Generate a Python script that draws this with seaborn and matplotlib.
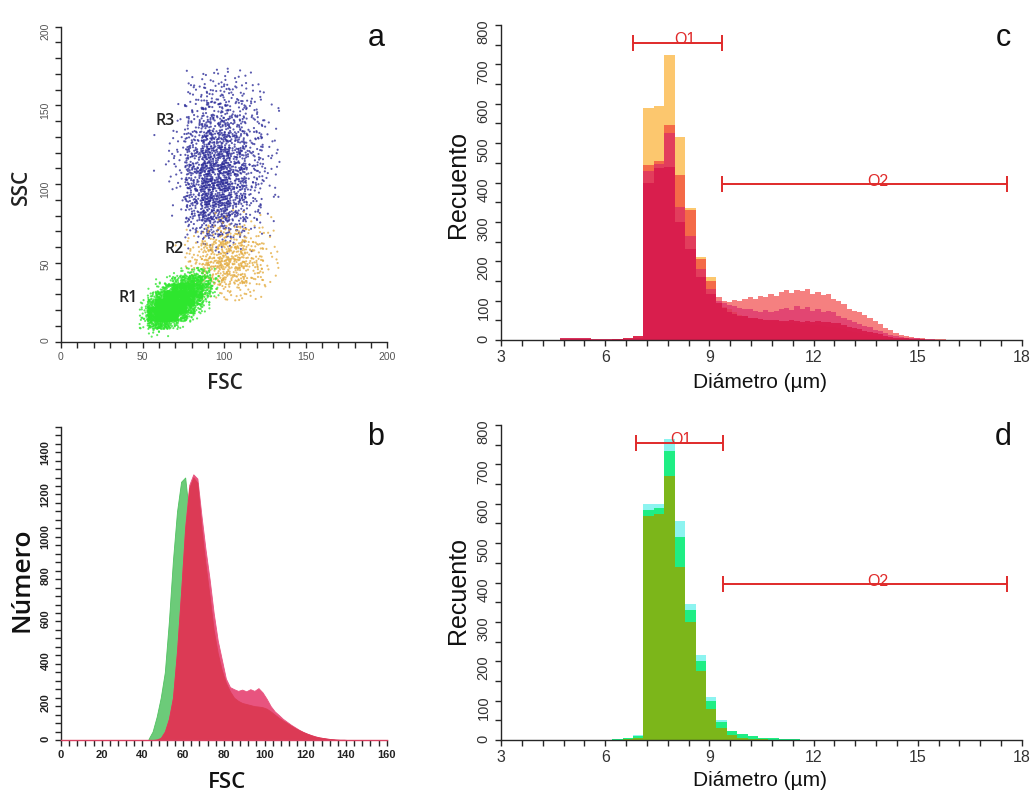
import numpy as np
import pandas as pd
import matplotlib
matplotlib.use("Agg")
import matplotlib.pyplot as plt
import seaborn as sns
from matplotlib.ticker import MultipleLocator

# ---------------- data: panel a (cell counts read from the dot cloud) ----------------
R3_FSC0, R3_DFSC = 60, 10          # columns: FSC 60,70,...,130
R3_SSC_ROWS = [160, 150, 140, 130, 120, 110, 100, 90, 80, 70, 60]
R3_COUNTS = [
    [0, 0, 10, 14, 12, 5, 0, 0],
    [0, 2, 14, 22, 18, 12, 3, 0],
    [0, 3, 22, 36, 30, 16, 5, 0],
    [0, 6, 36, 54, 42, 22, 7, 0],
    [2, 12, 54, 72, 54, 26, 10, 0],
    [4, 14, 66, 84, 66, 30, 12, 0],
    [0, 14, 72, 96, 66, 26, 10, 0],
    [0, 10, 72, 100, 66, 24, 7, 0],
    [0, 5, 60, 90, 54, 18, 5, 0],
    [0, 0, 42, 60, 36, 12, 3, 0],
    [0, 0, 6, 18, 10, 3, 0, 0],
]
R2_FSC0, R2_DFSC = 70, 10          # columns: FSC 70,...,130
R2_SSC_ROWS = [70, 60, 50, 40, 30]
R2_COUNTS = [
    [0, 0, 4, 8, 6, 2, 0],
    [0, 10, 30, 35, 25, 8, 0],
    [3, 35, 60, 65, 40, 12, 0],
    [0, 25, 60, 70, 40, 10, 0],
    [0, 0, 20, 30, 15, 3, 0],
]
R1_FSC0, R1_DFSC = 50, 5           # columns: FSC 50,55,...,90
R1_SSC_ROWS = [40, 35, 30, 25, 20, 15, 10, 5]
R1_COUNTS = [
    [0, 0, 0, 1, 4, 14, 28, 24, 6],
    [0, 0, 3, 12, 40, 65, 70, 45, 12],
    [0, 4, 20, 65, 110, 120, 90, 45, 10],
    [3, 22, 90, 160, 180, 140, 75, 20, 2],
    [10, 90, 200, 230, 180, 90, 28, 4, 0],
    [20, 160, 240, 180, 90, 28, 4, 0, 0],
    [15, 80, 95, 40, 10, 2, 0, 0, 0],
    [2, 8, 5, 0, 0, 0, 0, 0, 0],
]

# ---------------- data: panel b (FSC histogram, 2-unit bins from 42) ----------------
B_START, B_WIDTH = 42, 2
B_GREEN = [5, 40, 110, 200, 320, 560, 850, 1080, 1220, 1240, 1060, 900, 800, 700, 600,
           500, 420, 350, 280, 220, 180, 150, 130, 120, 110, 100, 95, 90, 85, 80, 75, 70,
           62, 55, 48, 40, 33, 27, 22, 17, 12, 9, 6, 4, 2, 1, 0, 0, 0, 0]
B_PINK = [0, 0, 2, 10, 40, 100, 200, 420, 700, 1010, 1205, 1255, 1235, 1060, 900, 760,
          600, 470, 380, 290, 250, 240, 232, 238, 230, 240, 232, 245, 225, 195, 160, 135,
          118, 100, 86, 72, 60, 48, 38, 30, 23, 17, 12, 9, 6, 4, 2, 1, 1, 0]
B_RED = [0, 0, 2, 10, 40, 100, 200, 420, 700, 1000, 1190, 1240, 1215, 1000, 830, 680,
         520, 410, 330, 270, 230, 200, 185, 175, 170, 165, 160, 158, 155, 148, 135, 120,
         105, 92, 80, 68, 56, 46, 37, 29, 22, 16, 12, 9, 6, 4, 2, 1, 1, 0]

# ---------------- data: panels c, d (diameter histograms) ----------------
# core: 0.3 um bins from 3.2 to 9.2 ; tail (panel c): 0.15 um bins from 9.2
CORE_START, CORE_W = 3.2, 0.3
TAIL_W = 0.15
C_YELLOW_CORE = [0, 0, 0, 0, 0, 2, 3, 2, 1, 1, 2, 4, 10, 590, 595, 725, 515, 335, 211, 160]
C_ORANGE_CORE = [0, 0, 0, 0, 0, 1, 2, 2, 1, 1, 2, 3, 6, 445, 455, 545, 420, 330, 205, 150]
C_PINK_CORE = [0, 0, 0, 0, 0, 1, 2, 2, 1, 1, 2, 3, 6, 430, 448, 525, 338, 265, 180, 130]
C_CRIMSON_CORE = [0, 0, 0, 0, 0, 4, 6, 5, 2, 2, 3, 5, 10, 400, 436, 440, 300, 230, 160, 118]
C_YELLOW_TAIL = [95, 85, 78, 70, 64, 60, 56, 54, 52, 50, 48, 47, 46, 45, 44, 42, 41, 40,
                 39, 38, 36, 34, 32, 30, 27, 24, 21, 18, 15, 12, 10, 8, 6, 5, 4, 3, 2, 2,
                 1, 1, 0, 0, 0, 0, 0, 0, 0, 0]
C_ORANGE_TAIL = [108, 100, 97, 101, 99, 104, 108, 103, 112, 109, 116, 113, 121, 126, 119,
                 128, 124, 130, 118, 122, 115, 117, 104, 98, 92, 80, 74, 70, 63, 55, 48,
                 40, 31, 25, 18, 13, 9, 7, 5, 4, 3, 3, 2, 2, 1, 1, 1, 0]
C_PINK_TAIL = [100, 94, 88, 86, 82, 78, 80, 74, 72, 76, 70, 73, 78, 82, 76, 86, 80, 84,
               74, 79, 72, 74, 70, 62, 56, 50, 45, 40, 36, 32, 26, 22, 17, 13, 10, 8, 6,
               5, 4, 3, 2, 2, 1, 1, 0, 0, 0, 0]
C_CRIMSON_TAIL = [95, 82, 72, 66, 62, 60, 57, 55, 54, 52, 50, 51, 49, 48, 50, 47, 46, 48,
                  46, 47, 45, 46, 44, 42, 38, 34, 30, 27, 24, 21, 17, 14, 11, 8, 6, 5, 4,
                  3, 2, 2, 1, 1, 1, 1, 0, 0, 0, 0]
D_CYAN = [0, 0, 0, 0, 0, 0, 0, 0, 0, 0, 2, 4, 12,
          600, 600, 765, 555, 345, 215, 110,
          50, 24, 15, 9, 6, 4, 3, 2, 1, 0]
D_GREEN = [0, 0, 0, 0, 0, 0, 0, 0, 0, 0, 2, 4, 11,
           585, 590, 735, 515, 330, 200, 100,
           46, 22, 14, 9, 6, 4, 3, 2, 1, 0]
D_OLIVE = [0, 0, 0, 0, 0, 0, 0, 0, 0, 0, 1, 2, 6,
           570, 575, 670, 440, 300, 175, 80,
           30, 12, 6, 3, 2, 1, 0, 0, 0, 0]

# gates O1, O2 (c and d)
GATE_NAMES = ["O1", "O2"]
GATE_C_LO, GATE_C_HI = [6.80, 9.37], [9.37, 17.58]
GATE_D_LO, GATE_D_HI = [6.89, 9.40], [9.40, 17.58]
GATE_LEVEL = [755, 395]
GATE_C_TEXT_X = [8.30, 13.86]
GATE_D_TEXT_X = [8.18, 13.86]

# ---------------- helpers ----------------
def halton(n, base):
    out = np.empty(n)
    for i in range(n):
        f, r, k = 1.0, 0.0, i + 1
        while k > 0:
            f /= base
            r += f * (k % base)
            k //= base
        out[i] = r
    return out

H2 = halton(14000, 2)
H3 = halton(14000, 3)

def cloud(counts, rows, x0, dx, dy, label, start):
    xs, ys = [], []
    idx = start
    for j, row in enumerate(counts):
        for i, c in enumerate(row):
            if c == 0:
                continue
            u = H2[idx:idx + c]
            v = H3[idx:idx + c]
            idx += c
            xs.append(x0 + dx * i + dx * (-0.4 + 1.8 * u))
            ys.append(rows[j] + dy * (-0.4 + 1.8 * v))
    return pd.DataFrame({"FSC": np.concatenate(xs), "SSC": np.concatenate(ys),
                         "region": label}), idx

df3, k = cloud(R3_COUNTS, R3_SSC_ROWS, R3_FSC0, R3_DFSC, 10, "R3", 0)
df2, k = cloud(R2_COUNTS, R2_SSC_ROWS, R2_FSC0, R2_DFSC, 10, "R2", k)
df1, k = cloud(R1_COUNTS, R1_SSC_ROWS, R1_FSC0, R1_DFSC, 5, "R1", k)
scatter_df = pd.concat([df3, df2, df1], ignore_index=True)

def hist_frame(edges, vals):
    centers = [(edges[i] + edges[i + 1]) / 2 for i in range(len(vals))]
    return pd.DataFrame({"x": centers, "w": [float(v) for v in vals]})

def uniform_edges(start, width, n):
    return [start + width * i for i in range(n + 1)]

# ---------------- figure ----------------
sns.set_style("ticks")
plt.rcParams["font.family"] = ["Liberation Sans", "DejaVu Sans"]
plt.rcParams["axes.linewidth"] = 1.0

W, H = 1034, 793
fig = plt.figure(figsize=(W / 100, H / 100), dpi=100)

def ax_at(l, t, r, b):
    return fig.add_axes([l / W, 1 - b / H, (r - l) / W, (b - t) / H])

ax_a = ax_at(61, 26.7, 387.3, 341.7)
ax_b = ax_at(61, 426.7, 386.7, 740)
ax_c = ax_at(501, 25, 1022, 340)
ax_d = ax_at(501, 425, 1022, 740)

OS = ["Open Sans", "DejaVu Sans"]

# ---- panel a ----
sns.scatterplot(data=scatter_df, x="FSC", y="SSC", hue="region",
                palette={"R1": "#2ee62e", "R2": "#e4ac40", "R3": "#2b2b98"},
                s=2.4, linewidth=0, alpha=0.78, legend=False, ax=ax_a)
ax_a.set_xlim(0, 200)
ax_a.set_ylim(0, 200)
ax_a.xaxis.set_major_locator(MultipleLocator(50))
ax_a.xaxis.set_minor_locator(MultipleLocator(10))
ax_a.yaxis.set_major_locator(MultipleLocator(50))
ax_a.yaxis.set_minor_locator(MultipleLocator(10))
ax_a.tick_params(which="both", direction="out", length=4, width=1, labelsize=7.5,
                 labelcolor="#555555")
ax_a.tick_params(axis="y", labelrotation=90)
for lab, (tx, ty) in zip(["R3", "R2", "R1"], [(165, 121), (174, 249), (128, 298)]):
    fig.text(tx / W, 1 - ty / H, lab, fontsize=11.5, color="#222222", family=OS,
             weight="semibold", ha="center", va="center")

# ---- panel b ----
b_edges = uniform_edges(B_START, B_WIDTH, len(B_RED))
for vals, col, a in [(B_GREEN, "#52c262", 0.85), (B_PINK, "#e8547f", 1.0),
                     (B_RED, "#dc3a55", 1.0)]:
    sns.histplot(data=hist_frame(b_edges, vals), x="x", weights="w", bins=b_edges,
                 element="poly", fill=True, color=col, alpha=a, linewidth=0.6, ax=ax_b)
ax_b.set_xlim(0, 160)
ax_b.set_ylim(0, 1480)
ax_b.xaxis.set_major_locator(MultipleLocator(20))
ax_b.xaxis.set_minor_locator(MultipleLocator(4))
ax_b.yaxis.set_major_locator(MultipleLocator(200))
ax_b.yaxis.set_minor_locator(MultipleLocator(40))
ax_b.tick_params(which="both", direction="out", length=4, width=1, labelsize=8,
                 labelcolor="#222222")
ax_b.tick_params(axis="y", labelrotation=90)
for t in ax_b.get_xticklabels() + ax_b.get_yticklabels():
    t.set_fontweight("bold")
ax_b.spines["bottom"].set_color("#d84060")

# ---- panels c, d ----
n_core = len(C_YELLOW_CORE)
core_edges = uniform_edges(CORE_START, CORE_W, n_core)
c_edges = core_edges + [core_edges[-1] + TAIL_W * (i + 1) for i in range(len(C_YELLOW_TAIL))]
for core, tail, col, a in [(C_YELLOW_CORE, C_YELLOW_TAIL, "#fcc466", 0.95),
                           (C_ORANGE_CORE, C_ORANGE_TAIL, "#f03232", 0.62),
                           (C_PINK_CORE, C_PINK_TAIL, "#d6206a", 0.6),
                           (C_CRIMSON_CORE, C_CRIMSON_TAIL, "#d81b4c", 0.9)]:
    vals = core + tail
    sns.histplot(data=hist_frame(c_edges, vals), x="x", weights="w", bins=c_edges,
                 element="step", fill=True, color=col, alpha=a, linewidth=0, ax=ax_c)
d_edges = uniform_edges(CORE_START, CORE_W, len(D_CYAN))
for vals, col in [(D_CYAN, "#8cf4f0"), (D_GREEN, "#1fee84"), (D_OLIVE, "#7cb61a")]:
    sns.histplot(data=hist_frame(d_edges, vals), x="x", weights="w", bins=d_edges,
                 element="step", fill=True, color=col, alpha=1.0, linewidth=0, ax=ax_d)

for ax, lo_l, hi_l, tx_l in [(ax_c, GATE_C_LO, GATE_C_HI, GATE_C_TEXT_X),
                             (ax_d, GATE_D_LO, GATE_D_HI, GATE_D_TEXT_X)]:
    for name, lo, hi, lev, tx in zip(GATE_NAMES, lo_l, hi_l, GATE_LEVEL, tx_l):
        ax.errorbar([(lo + hi) / 2], [lev], xerr=[(hi - lo) / 2], fmt="none",
                    ecolor="#e02a2a", elinewidth=1.4, capsize=6, capthick=1.4)
        ax.text(tx, lev - 3, name, color="#e02a2a", fontsize=11.5,
                ha="center", va="baseline")
    ax.set_xlim(3, 18)
    ax.set_ylim(0, 800)
    ax.xaxis.set_major_locator(MultipleLocator(3))
    ax.xaxis.set_minor_locator(MultipleLocator(0.6))
    ax.yaxis.set_major_locator(MultipleLocator(100))
    ax.yaxis.set_minor_locator(MultipleLocator(50))
    ax.tick_params(which="both", direction="out", length=4, width=1,
                   labelcolor="#333333")
    ax.tick_params(axis="x", labelsize=11.5)
    ax.tick_params(axis="y", labelsize=10.5, labelrotation=90)

for ax in (ax_a, ax_b, ax_c, ax_d):
    ax.set_xlabel("")
    ax.set_ylabel("")
    sns.despine(ax=ax)

# ---- labels ----
fig.text(21 / W, 1 - 187 / H, "SSC", rotation=90, fontsize=15, family=OS,
         weight="semibold", ha="center", va="center", color="#222222")
fig.text(225 / W, 1 - 383 / H, "FSC", fontsize=15, family=OS, weight="semibold",
         ha="center", va="center", color="#222222")
fig.text(22 / W, 1 - 580 / H, "Número", rotation=90, fontsize=19, family=OS,
         weight="semibold", ha="center", va="center", color="#111111")
fig.text(227 / W, 1 - 783 / H, "FSC", fontsize=16, family=OS, weight="semibold",
         ha="center", va="center", color="#111111")
for yc, yd in [(185, 382), (590, 780)]:
    fig.text(458 / W, 1 - yc / H, "Recuento", rotation=90, fontsize=18,
             ha="center", va="center", color="#111111")
    fig.text(760 / W, 1 - yd / H, "Diámetro (µm)", fontsize=15,
             ha="center", va="center", color="#111111")

NARROW = ["Liberation Sans Narrow", "Liberation Sans", "DejaVu Sans"]
for lab, (tx, ty) in zip("abcd", [(376, 38), (376, 437), (1003, 38), (1003, 437)]):
    fig.text(tx / W, 1 - ty / H, lab, fontsize=22, family=NARROW,
             ha="center", va="center", color="#111111")

fig.savefig("out.png", dpi=100)
